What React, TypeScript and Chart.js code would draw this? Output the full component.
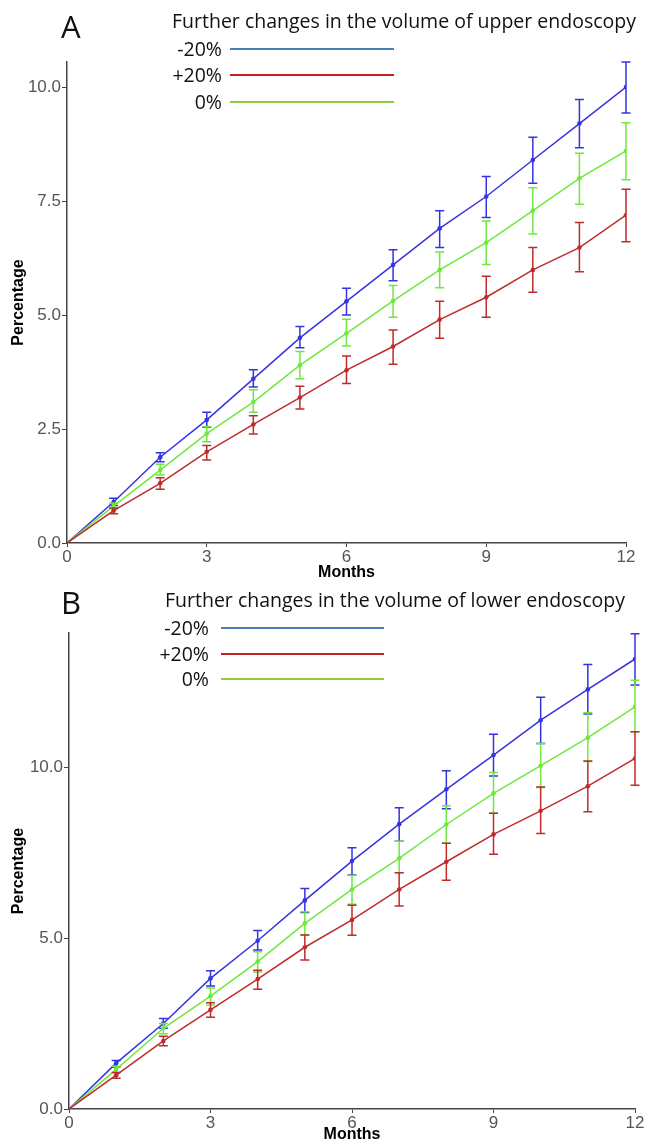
import React, { useEffect, useRef } from "react";
import { Chart, registerables } from "chart.js";

Chart.register(...registerables);

// ---------- data ----------
const months = [0, 1, 2, 3, 4, 5, 6, 7, 8, 9, 10, 11, 12];
const xTicks = [0, 3, 6, 9, 12];
const yTicksA = [0, 2.5, 5, 7.5, 10];
const yTicksB = [0, 5, 10];
const seriesLabels = ["-20%", "+20%", "0%"];
const titleA = "Further changes in the volume of upper endoscopy";
const titleB = "Further changes in the volume of lower endoscopy";
const xTitle = "Months";
const yTitle = "Percentage";

// Panel A: upper endoscopy
const upperMinus20 = [0, 0.9, 1.88, 2.7, 3.6, 4.5, 5.3, 6.1, 6.9, 7.6, 8.4, 9.2, 10.0];
const upperMinus20Low = [0, 0.82, 1.78, 2.54, 3.42, 4.28, 5.0, 5.75, 6.48, 7.14, 7.89, 8.67, 9.43];
const upperMinus20High = [0, 0.98, 1.98, 2.87, 3.8, 4.75, 5.59, 6.43, 7.29, 8.04, 8.9, 9.73, 10.55];
const upperZero = [0, 0.81, 1.6, 2.4, 3.09, 3.9, 4.6, 5.31, 5.99, 6.59, 7.29, 8.0, 8.6];
const upperZeroLow = [0, 0.75, 1.49, 2.22, 2.87, 3.6, 4.32, 4.95, 5.6, 6.11, 6.78, 7.43, 7.97];
const upperZeroHigh = [0, 0.88, 1.73, 2.55, 3.36, 4.2, 4.91, 5.65, 6.38, 7.06, 7.79, 8.55, 9.22];
const upperPlus20 = [0, 0.71, 1.31, 2.0, 2.6, 3.19, 3.79, 4.31, 4.9, 5.39, 5.99, 6.48, 7.19];
const upperPlus20Low = [0, 0.64, 1.18, 1.82, 2.39, 2.94, 3.5, 3.92, 4.49, 4.95, 5.5, 5.95, 6.61];
const upperPlus20High = [0, 0.77, 1.43, 2.14, 2.79, 3.44, 4.1, 4.67, 5.3, 5.85, 6.48, 7.03, 7.76];

// Panel B: lower endoscopy
const lowerMinus20 = [0, 1.34, 2.5, 3.82, 4.92, 6.1, 7.25, 8.33, 9.35, 10.35, 11.37, 12.27, 13.16];
const lowerMinus20Low = [0, 1.23, 2.36, 3.6, 4.65, 5.75, 6.84, 7.83, 8.78, 9.74, 10.69, 11.55, 12.4];
const lowerMinus20High = [0, 1.42, 2.65, 4.04, 5.22, 6.45, 7.64, 8.81, 9.89, 10.96, 12.04, 13.0, 13.9];
const lowerZero = [0, 1.16, 2.36, 3.3, 4.31, 5.43, 6.42, 7.33, 8.32, 9.23, 10.04, 10.86, 11.76];
const lowerZeroLow = [0, 1.07, 2.2, 3.04, 4.01, 5.09, 5.99, 6.91, 7.77, 8.65, 9.4, 10.16, 11.03];
const lowerZeroHigh = [0, 1.25, 2.5, 3.54, 4.6, 5.77, 6.83, 7.83, 8.87, 9.84, 10.69, 11.59, 12.54];
const lowerPlus20 = [0, 0.99, 1.99, 2.9, 3.8, 4.73, 5.53, 6.42, 7.23, 8.03, 8.72, 9.44, 10.25];
const lowerPlus20Low = [0, 0.9, 1.85, 2.68, 3.5, 4.36, 5.08, 5.94, 6.69, 7.45, 8.06, 8.69, 9.47];
const lowerPlus20High = [0, 1.07, 2.13, 3.11, 4.06, 5.09, 5.96, 6.91, 7.77, 8.65, 9.42, 10.18, 11.03];

// ---------- styles ----------
const W = 647;
const COL_BLUE = "#3434e0";
const COL_GREEN = "#6fe83e";
const COL_RED = "#c02b2b";
const LEG_BLUE = "#4a7ebb";
const LEG_RED = "#be2222";
const LEG_GREEN = "#8dcf3a";
const AXIS_FONT = "'Liberation Sans', Arial, sans-serif";
const TEXT_FONT = "'Open Sans', Lato, sans-serif";

const errorBarPlugin = {
  id: "errorBars",
  afterDatasetDraw(chart: any, args: any) {
    const ds = chart.data.datasets[args.index];
    const lo: number[] = ds.errLow;
    const hi: number[] = ds.errHigh;
    if (!lo || !hi) return;
    const { ctx, scales } = chart;
    const xs = scales.x;
    const ys = scales.y;
    ctx.save();
    ctx.strokeStyle = ds.borderColor;
    ctx.lineWidth = 1.5;
    for (let i = 1; i < months.length; i++) {
      const px = xs.getPixelForValue(months[i]);
      const pl = ys.getPixelForValue(lo[i]);
      const ph = ys.getPixelForValue(hi[i]);
      ctx.beginPath();
      ctx.moveTo(px, pl);
      ctx.lineTo(px, ph);
      ctx.moveTo(px - 4.5, pl);
      ctx.lineTo(px + 4.5, pl);
      ctx.moveTo(px - 4.5, ph);
      ctx.lineTo(px + 4.5, ph);
      ctx.stroke();
    }
    ctx.restore();
  },
};

type Series = { values: number[]; low: number[]; high: number[]; color: string; order: number };

function makeDataset(s: Series) {
  return {
    data: months.map((m, i) => ({ x: m, y: s.values[i] })),
    borderColor: s.color,
    backgroundColor: s.color,
    borderWidth: 1.5,
    pointRadius: months.map((_, i) => (i === 0 ? 0 : 2.3)),
    pointBorderWidth: 0,
    tension: 0,
    order: s.order,
    errLow: s.low,
    errHigh: s.high,
  } as any;
}

type PanelProps = {
  top: number;
  height: number;
  plotLeft: number;
  plotRight: number;
  plotTop: number;
  plotBottom: number;
  yMax: number;
  yTicks: number[];
  series: Series[];
  xTitlePad: number;
};

function Panel(p: PanelProps) {
  const ref = useRef<HTMLCanvasElement>(null);
  useEffect(() => {
    if (!ref.current) return;
    const chart = new Chart(ref.current, {
      type: "line",
      data: { datasets: p.series.map(makeDataset) },
      plugins: [errorBarPlugin as any],
      options: {
        animation: false,
        responsive: false,
        layout: { padding: { top: p.plotTop, right: W - p.plotRight, left: 0, bottom: 0 } },
        plugins: {
          legend: { display: false },
          tooltip: { enabled: false },
          title: { display: false },
        },
        scales: {
          x: {
            type: "linear",
            min: 0,
            max: 12,
            afterBuildTicks: (a: any) => {
              a.ticks = xTicks.map((v) => ({ value: v }));
            },
            afterFit: (s: any) => {
              s.height = p.height - p.plotBottom;
            },
            grid: { drawOnChartArea: false, tickLength: 4, color: "#444", lineWidth: 1 },
            border: { color: "#444", width: 1.5 },
            ticks: {
              color: "#555",
              font: { family: AXIS_FONT, size: 17 },
              padding: 0,
              maxRotation: 0,
              autoSkip: false,
            },
            title: {
              display: true,
              text: xTitle,
              color: "#000",
              font: { family: AXIS_FONT, size: 16, weight: "bold" },
              padding: { top: 0, bottom: p.xTitlePad },
            },
          },
          y: {
            type: "linear",
            min: 0,
            max: p.yMax,
            afterBuildTicks: (a: any) => {
              a.ticks = p.yTicks.map((v) => ({ value: v }));
            },
            afterFit: (s: any) => {
              s.width = p.plotLeft;
            },
            grid: { drawOnChartArea: false, tickLength: 5, color: "#444", lineWidth: 1 },
            border: { color: "#444", width: 1.5 },
            ticks: {
              color: "#555",
              font: { family: AXIS_FONT, size: 17 },
              padding: 1,
              autoSkip: false,
              callback: (v: any) => Number(v).toFixed(1),
            },
            title: {
              display: true,
              text: yTitle,
              color: "#000",
              font: { family: AXIS_FONT, size: 16, weight: "bold" },
              padding: { top: 9, bottom: 0 },
            },
          },
        },
      } as any,
    });
    return () => chart.destroy();
  }, []);
  return (
    <canvas
      ref={ref}
      width={W}
      height={p.height}
      style={{ position: "absolute", left: 0, top: p.top, width: W, height: p.height }}
    />
  );
}

function Text(props: { x: number; y: number; size: number; text: string; align?: "left" | "right" }) {
  const style: React.CSSProperties = {
    position: "absolute",
    top: props.y,
    transform: "translateY(-50%)",
    fontFamily: TEXT_FONT,
    fontSize: props.size,
    lineHeight: 1,
    color: "#111",
    whiteSpace: "nowrap",
  };
  if (props.align === "right") style.right = W - props.x;
  else style.left = props.x;
  return <div style={style}>{props.text}</div>;
}

function LegendLine(props: { x1: number; x2: number; y: number; color: string }) {
  return (
    <div
      style={{
        position: "absolute",
        left: props.x1,
        top: props.y - 1,
        width: props.x2 - props.x1,
        height: 2,
        background: props.color,
      }}
    />
  );
}

export default function App() {
  const legendColors = [LEG_BLUE, LEG_RED, LEG_GREEN];
  const seriesA: Series[] = [
    { values: upperMinus20, low: upperMinus20Low, high: upperMinus20High, color: COL_BLUE, order: 3 },
    { values: upperZero, low: upperZeroLow, high: upperZeroHigh, color: COL_GREEN, order: 2 },
    { values: upperPlus20, low: upperPlus20Low, high: upperPlus20High, color: COL_RED, order: 1 },
  ];
  const seriesB: Series[] = [
    { values: lowerMinus20, low: lowerMinus20Low, high: lowerMinus20High, color: COL_BLUE, order: 3 },
    { values: lowerZero, low: lowerZeroLow, high: lowerZeroHigh, color: COL_GREEN, order: 2 },
    { values: lowerPlus20, low: lowerPlus20Low, high: lowerPlus20High, color: COL_RED, order: 1 },
  ];
  const legA = [49, 75, 102];
  const legB = [628, 654, 679];
  return (
    <div style={{ position: "absolute", left: 0, top: 0, width: W, height: 1144, background: "#fff", overflow: "hidden" }}>
      <Panel
        top={0}
        height={585}
        plotLeft={67}
        plotRight={626}
        plotTop={62}
        plotBottom={543}
        yMax={10.55}
        yTicks={yTicksA}
        series={seriesA}
        xTitlePad={3}
      />
      <Panel
        top={585}
        height={559}
        plotLeft={69}
        plotRight={635}
        plotTop={48}
        plotBottom={524}
        yMax={13.92}
        yTicks={yTicksB}
        series={seriesB}
        xTitlePad={0}
      />
      <Text x={61} y={26} size={31} text="A" />
      <Text x={172} y={21} size={19.5} text={titleA} />
      {seriesLabels.map((l, i) => (
        <React.Fragment key={"a" + i}>
          <Text x={222} y={legA[i]} size={19.5} text={l} align="right" />
          <LegendLine x1={230} x2={394} y={legA[i]} color={legendColors[i]} />
        </React.Fragment>
      ))}
      <Text x={61} y={602} size={31} text="B" />
      <Text x={165} y={600} size={19.5} text={titleB} />
      {seriesLabels.map((l, i) => (
        <React.Fragment key={"b" + i}>
          <Text x={209} y={legB[i]} size={19.5} text={l} align="right" />
          <LegendLine x1={221} x2={384} y={legB[i]} color={legendColors[i]} />
        </React.Fragment>
      ))}
    </div>
  );
}
